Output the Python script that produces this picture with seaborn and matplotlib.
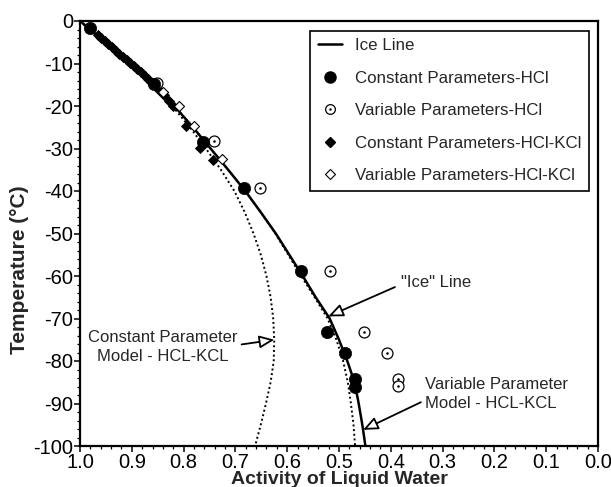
import numpy as np
import pandas as pd
import matplotlib
matplotlib.use("Agg")
import matplotlib.pyplot as plt
from matplotlib.lines import Line2D
from matplotlib.path import Path
import seaborn as sns

# ---- curves: temperature (deg C) vs activity of liquid water ----
ice_T = [0, -5, -10, -15, -20, -25, -30, -35, -40, -45, -50, -55, -60,
         -65, -70, -75, -80, -85, -90, -95, -100]
ice_aw = [1.000, 0.952, 0.904, 0.857, 0.818, 0.782, 0.748, 0.714, 0.681,
          0.651, 0.622, 0.596, 0.570, 0.545, 0.518, 0.500, 0.484, 0.470,
          0.462, 0.455, 0.449]

var_model_T = [0, -5, -10, -15, -20, -25, -30, -35, -40, -45, -50, -55, -60,
               -65, -70, -75, -80, -85, -90, -95, -100]
var_model_aw = [1.000, 0.952, 0.904, 0.857, 0.818, 0.782, 0.748, 0.714, 0.681,
                0.651, 0.623, 0.598, 0.573, 0.547, 0.522, 0.505, 0.492, 0.483,
                0.477, 0.472, 0.469]

const_model_T = [0, -5, -10, -15, -20, -25, -30, -35, -40, -45, -50, -55, -60,
                 -65, -70, -75, -80, -85, -90, -95, -100]
const_model_aw = [1.000, 0.952, 0.904, 0.858, 0.822, 0.788, 0.757, 0.728,
                  0.702, 0.682, 0.665, 0.651, 0.640, 0.632, 0.627, 0.625,
                  0.626, 0.632, 0.641, 0.651, 0.662]

# ---- measured / computed points ----
const_hcl_aw = [0.981, 0.857, 0.762, 0.683, 0.574, 0.524, 0.488, 0.470, 0.470]
const_hcl_T = [-1.7, -14.8, -28.4, -39.3, -58.8, -73.1, -78.2, -84.3, -86.0]

var_hcl_aw = [0.851, 0.741, 0.653, 0.517, 0.451, 0.408, 0.386, 0.386]
var_hcl_T = [-14.5, -28.2, -39.3, -58.8, -73.1, -78.0, -84.2, -85.8]

const_kcl_aw = [0.965, 0.959, 0.952, 0.945, 0.938, 0.931, 0.924, 0.917,
                0.910, 0.903, 0.896, 0.889, 0.882, 0.875, 0.868, 0.862,
                0.848, 0.838, 0.829, 0.820, 0.795, 0.768, 0.743]
const_kcl_T = [-3.3, -4.0, -4.7, -5.5, -6.2, -7.0, -7.7, -8.4, -9.2, -9.9,
               -10.6, -11.4, -12.1, -12.9, -13.6, -14.3, -16.2, -17.5, -18.8,
               -20.0, -24.6, -29.8, -32.8]

var_kcl_aw = [0.840, 0.808, 0.779, 0.725]
var_kcl_T = [-16.8, -20.0, -24.8, -32.5]

x_ticks = [1.0, 0.9, 0.8, 0.7, 0.6, 0.5, 0.4, 0.3, 0.2, 0.1, 0.0]
y_ticks = [0, -10, -20, -30, -40, -50, -60, -70, -80, -90, -100]

legend_labels = ["Ice Line", "Constant Parameters-HCl", "Variable Parameters-HCl",
                 "Constant Parameters-HCl-KCl", "Variable Parameters-HCl-KCl"]

sns.set_style("ticks")
plt.rcParams["font.family"] = ["Liberation Sans", "DejaVu Sans"]
plt.rcParams["axes.unicode_minus"] = False

fig = plt.figure(figsize=(6.11, 4.87), dpi=100)
ax = fig.add_axes([80 / 611, 41 / 487, 518 / 611, 425 / 487])

# open circle with a dot in the middle
dot_circle = Path.make_compound_path(
    Path.unit_circle(),
    Path(Path.unit_circle().vertices * 0.12, Path.unit_circle().codes),
)

ice = pd.DataFrame({"aw": ice_aw, "T": ice_T})
varm = pd.DataFrame({"aw": var_model_aw, "T": var_model_T})
constm = pd.DataFrame({"aw": const_model_aw, "T": const_model_T})

dotted = (0, (1, 1.4))
sns.lineplot(data=constm, x="aw", y="T", sort=False, estimator=None, ax=ax,
             color="black", lw=1.4, linestyle=dotted)
sns.lineplot(data=varm, x="aw", y="T", sort=False, estimator=None, ax=ax,
             color="black", lw=1.4, linestyle=dotted)
sns.lineplot(data=ice, x="aw", y="T", sort=False, estimator=None, ax=ax,
             color="black", lw=1.8)

sns.scatterplot(x=const_kcl_aw, y=const_kcl_T, ax=ax, marker="D", s=26,
                color="black", edgecolor="black", linewidth=0.6, zorder=3)
sns.scatterplot(x=var_kcl_aw, y=var_kcl_T, ax=ax, marker="D", s=26,
                facecolor="white", edgecolor="black", linewidth=0.8, zorder=3)
sns.scatterplot(x=var_hcl_aw, y=var_hcl_T, ax=ax, marker=dot_circle, s=62,
                facecolor="white", edgecolor="black", linewidth=0.9, zorder=4)
sns.scatterplot(x=const_hcl_aw, y=const_hcl_T, ax=ax, marker="o", s=78,
                color="black", edgecolor="black", linewidth=0.5, zorder=5)

ax.set_xlim(1.0, 0.0)
ax.set_ylim(-100, 0)
ax.set_xticks(x_ticks)
ax.set_xticklabels([f"{v:.1f}" for v in x_ticks])
ax.set_yticks(y_ticks)
ax.set_yticklabels([str(v) for v in y_ticks])
ax.set_xticks(np.arange(0, 1.0001, 0.02), minor=True)
ax.set_yticks(np.arange(-100, 0.001, 2), minor=True)
ax.tick_params(which="major", direction="out", length=4, width=1.1,
               labelsize=14.5, color="black", labelcolor="black", pad=1)
ax.tick_params(which="minor", direction="out", length=2.2, width=0.9,
               color="black")
for sp in ax.spines.values():
    sp.set_visible(True)
    sp.set_linewidth(1.6)
    sp.set_color("black")

ax.set_xlabel("Activity of Liquid Water", fontsize=14, fontweight="bold",
              labelpad=-1)
ax.set_ylabel("Temperature (°C)", fontsize=15, fontweight="bold", labelpad=3)
ax.yaxis.set_label_coords(-0.098, 0.414)

# annotations with hollow arrow heads
arrow_kw = dict(arrowstyle="-|>,head_length=0.75,head_width=0.32",
                facecolor="white", edgecolor="black", lw=1.3,
                shrinkA=0, shrinkB=0, mutation_scale=12)

ice_tip_T = -69.5
ice_tip = (np.interp(ice_tip_T, ice_T[::-1], ice_aw[::-1]), ice_tip_T)
ax.annotate("", xy=ice_tip, xytext=(0.392, -62.6), arrowprops=arrow_kw)
ax.text(0.380, -61.6, '"Ice" Line', fontsize=12, ha="left", va="center")

const_tip_T = -75.0
const_tip = (np.interp(const_tip_T, const_model_T[::-1], const_model_aw[::-1]),
             const_tip_T)
ax.annotate("", xy=const_tip, xytext=(0.688, -76.1), arrowprops=arrow_kw)
ax.text(0.840, -76.7, "Constant Parameter\nModel - HCL-KCL", fontsize=12,
        ha="center", va="center", multialignment="center", linespacing=1.35)

var_tip_T = -96.2
var_tip = (np.interp(var_tip_T, ice_T[::-1], ice_aw[::-1]), var_tip_T)
ax.annotate("", xy=var_tip, xytext=(0.342, -89.7), arrowprops=arrow_kw)
ax.text(0.334, -87.7, "Variable Parameter\nModel - HCL-KCL", fontsize=12,
        ha="left", va="center", multialignment="left", linespacing=1.35)

handles = [
    Line2D([], [], color="black", lw=1.8),
    Line2D([], [], ls="none", marker="o", ms=8, mfc="black", mec="black"),
    Line2D([], [], ls="none", marker=dot_circle, ms=7, mfc="white",
           mec="black", mew=0.9),
    Line2D([], [], ls="none", marker="D", ms=5, mfc="black", mec="black"),
    Line2D([], [], ls="none", marker="D", ms=5, mfc="white", mec="black",
           mew=0.8),
]
leg = ax.legend(handles, legend_labels, loc="upper right",
                bbox_to_anchor=(0.983, 0.977), borderaxespad=0, fontsize=12.2,
                frameon=True, fancybox=False, framealpha=1, edgecolor="black",
                handlelength=1.4, handletextpad=0.8, labelspacing=1.03,
                borderpad=0.45)
leg.get_frame().set_linewidth(1.2)

fig.savefig("out.png", dpi=100)
